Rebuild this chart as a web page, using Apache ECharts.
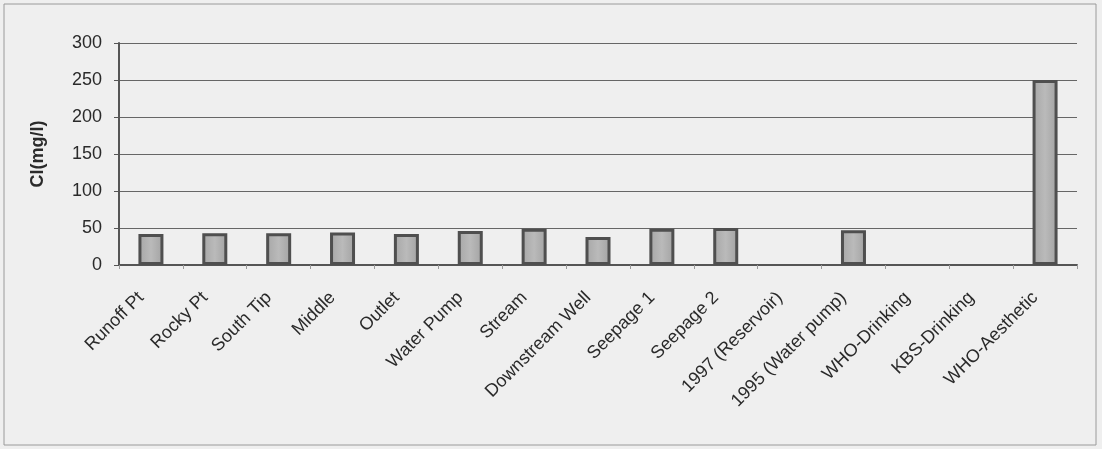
<!DOCTYPE html>
<html>
<head>
<meta charset="utf-8">
<script src="https://cdn.jsdelivr.net/npm/echarts@6/dist/echarts.min.js"></script>
<style>
  html, body { margin: 0; padding: 0; background: #efefef; }
  #chart { width: 1102px; height: 449px; }
</style>
</head>
<body>
<div id="chart"></div>
<script>
// Chloride concentration by sampling site, with guideline levels
const categories = [
  'Runoff Pt', 'Rocky Pt', 'South Tip', 'Middle', 'Outlet', 'Water Pump', 'Stream',
  'Downstream Well', 'Seepage 1', 'Seepage 2', '1997 (Reservoir)', '1995 (Water pump)',
  'WHO-Drinking', 'KBS-Drinking', 'WHO-Aesthetic'
];
const chloride = [42, 43, 43, 44, 42, 46, 49, 38, 49, 50, null, 47, null, null, 250];
const yTicks = [0, 50, 100, 150, 200, 250, 300];

const FONT = 'Liberation Sans, Arial, sans-serif';

const chart = echarts.init(document.getElementById('chart'), null, { renderer: 'canvas' });
chart.setOption({
  backgroundColor: '#efefef',
  animation: false,
  graphic: [{
    type: 'rect',
    shape: { x: 4, y: 4, width: 1092, height: 441 },
    style: { fill: 'none', stroke: '#9a9a9a', lineWidth: 1 },
    silent: true
  }],
  grid: { left: 119, right: 25, top: 43, bottom: 184, containLabel: false },
  xAxis: {
    type: 'category',
    data: categories,
    axisLine: { lineStyle: { color: '#555', width: 2 } },
    axisTick: { show: true, length: 4, lineStyle: { color: '#9a9a9a' } },
    axisLabel: {
      rotate: 45, interval: 0, margin: 20, padding: [0, 14, 0, 0],
      fontFamily: FONT, fontSize: 18, color: '#2a2a2a'
    }
  },
  yAxis: {
    type: 'value',
    min: yTicks[0], max: yTicks[yTicks.length - 1], interval: 50,
    name: 'Cl(mg/l)',
    nameLocation: 'middle', nameGap: 72, nameRotate: 90,
    nameTextStyle: { fontFamily: FONT, fontSize: 18, fontWeight: 'bold', color: '#2a2a2a' },
    axisLine: { show: true, lineStyle: { color: '#555', width: 2 } },
    axisTick: { show: true, length: 5, lineStyle: { color: '#555' } },
    axisLabel: { fontFamily: FONT, fontSize: 18, color: '#2a2a2a', margin: 17 },
    splitLine: { lineStyle: { color: '#666', width: 1 } }
  },
  series: [{
    type: 'bar',
    data: chloride,
    barWidth: 25,
    itemStyle: {
      color: new echarts.graphic.LinearGradient(0, 0, 1, 0, [
        { offset: 0, color: '#a6a6a6' },
        { offset: 0.5, color: '#bababa' },
        { offset: 1, color: '#a2a2a2' }
      ]),
      borderColor: '#4f4f4f',
      borderWidth: 3
    }
  }]
});
</script>
</body>
</html>
